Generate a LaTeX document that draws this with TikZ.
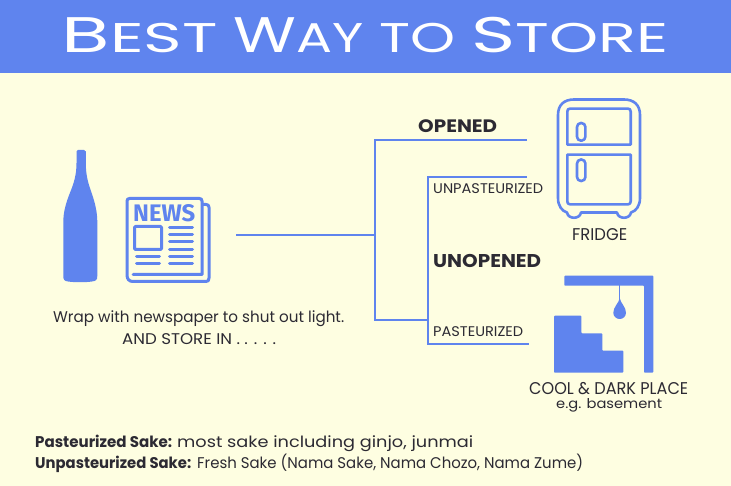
\documentclass[tikz,border=0pt]{standalone}
\usepackage{fontspec}
\usepackage{graphicx}
\setmainfont{Poppins}
\definecolor{sky}{HTML}{5F84EE}
\definecolor{cream}{HTML}{FEFEE1}
\definecolor{ink}{HTML}{2C2A33}
% set text to an exact width, keeping the font's own height
\newcommand{\fitw}[2]{\resizebox{#1pt}{\height}{#2}}
% initial capital and small capitals for the heading
\newcommand{\bigc}{\fontsize{50}{50}\selectfont}
\newcommand{\smallc}{\fontsize{41.5}{42}\selectfont}
\tikzset{
  label/.style={anchor=base west,inner sep=0pt,text=ink},
  headword/.style={anchor=base west,inner sep=0pt,text=white},
  branch/.style={draw=sky,line width=2pt},
  iconline/.style={draw=sky,line width=3pt,line cap=round,line join=round},
  fridgeline/.style={draw=sky,line width=2.6pt,line join=round},
  solidicon/.style={fill=sky,draw=none}
}
\begin{document}
\begin{tikzpicture}[x=1pt,y=-1pt]
\useasboundingbox (0,0) rectangle (731,486);
\fill[cream] (0,0) rectangle (731,486);
\fill[sky] (0,0) rectangle (731,73);

% heading
\node[headword] (tbest) at (61.5,53) {\fitw{156}{\bigc B\smallc EST}};
\node[headword] (tway) at (233,53) {\fitw{130}{\bigc W\smallc AY}};
\node[headword] (tto) at (379,53) {\fitw{76}{\smallc TO}};
\node[headword] (tstore) at (471,53) {\fitw{197}{\bigc S\smallc TORE}};

% bottle
\fill[solidicon] (76.5,151.5) .. controls (76.5,150.3) and (77,150) .. (78,150)
  -- (84,150) .. controls (85.3,150) and (85.8,150.5) .. (85.8,151.5)
  -- (85.8,163) .. controls (85.8,175) and (88,183) .. (92,194)
  .. controls (95,203) and (97.3,212) .. (97.3,222)
  -- (97.3,276) .. controls (97.3,280) and (96,281) .. (92,281.5)
  .. controls (85,282.5) and (75,282.5) .. (68,281.5)
  .. controls (64.5,281) and (63.3,280) .. (63.3,276)
  -- (63.3,222) .. controls (63.3,212) and (66,203) .. (69.5,194)
  .. controls (74,183) and (76.5,175) .. (76.5,163) -- cycle;

% newspaper
\draw[iconline] (202,204.5) -- (206,204.5) .. controls (208,204.5) and (209,205.5) .. (209,207.5)
  -- (209,278) .. controls (209,280.5) and (208,281.5) .. (206,281.5)
  -- (133,281.5) .. controls (129,281.5) and (127,279) .. (127,275)
  -- (127,201) .. controls (127,199.5) and (128,198.5) .. (129.5,198.5)
  -- (199.5,198.5) .. controls (201,198.5) and (202,199.5) .. (202,201)
  -- (202,274.5) -- (133,274.5);
\node[inner sep=0pt,text=sky,anchor=base west] (news) at (133,222)
  {\resizebox{62pt}{17pt}{\fontspec{Fira Sans}\bfseries NEWS}};
\draw[iconline,rounded corners=1pt] (134.5,226.5) rectangle (161.5,249.5);
\foreach \ypos in {227.3,234.7,242,249.3,256.7,263.3}
  \draw[iconline] (169.5,\ypos) -- (192.5,\ypos);
\foreach \ypos in {256.7,263.3}
  \draw[iconline] (136.5,\ypos) -- (159.5,\ypos);

% branching connectors
\coordinate (src) at (236,235);
\coordinate (trunk) at (375,235);
\coordinate (trunktop) at (375,140);
\coordinate (trunkbot) at (375,320);
\coordinate (opened) at (527,140);
\coordinate (subbot) at (428,320);
\coordinate (subtop) at (428,177);
\coordinate (sublow) at (428,344);
\coordinate (unpast) at (527,177);
\coordinate (past) at (529,344);
\draw[branch] (src) -- (trunk);
\draw[branch,line join=miter] (opened) -- (trunktop) -- (trunkbot) -- (subbot);
\draw[branch] (unpast) -- (subtop) -- (sublow) -- (past);

% refrigerator
\draw[fridgeline] (558,115) .. controls (558,105) and (564,99.5) .. (574,99.5)
  -- (624,99.5) .. controls (634,99.5) and (640,105) .. (640,115)
  -- (640,198) .. controls (640,206) and (636,211) .. (631,212.5)
  .. controls (630,219.5) and (618,219.5) .. (617,212.5)
  -- (581,212.5) .. controls (580,219.5) and (568,219.5) .. (567,212.5)
  .. controls (562,211) and (558,206) .. (558,198) -- cycle;
\draw[fridgeline] (567.3,144.7) -- (567.3,111.5) .. controls (567.3,109.5) and (568.3,108.6) .. (570.3,108.6)
  -- (627.7,108.6) .. controls (629.7,108.6) and (630.7,109.5) .. (630.7,111.5)
  -- (630.7,144.7) -- cycle;
\draw[fridgeline] (567.3,154.6) -- (630.7,154.6) -- (630.7,201.4)
  .. controls (630.7,203.4) and (629.7,204.4) .. (627.7,204.4)
  -- (570.3,204.4) .. controls (568.3,204.4) and (567.3,203.4) .. (567.3,201.4) -- cycle;
\draw[fridgeline,rounded corners=4pt] (577,123) rectangle (585.4,140.7);
\draw[fridgeline,rounded corners=4pt] (577,159.5) rectangle (585.4,181);

% cellar
\fill[solidicon,rounded corners=0.8pt] (564.3,275.7) -- (653.3,275.7) -- (653.3,372.7)
  -- (644,372.7) -- (644,285.7) -- (564.3,285.7) -- cycle;
\fill[solidicon,rounded corners=0.8pt] (554,315.7) -- (581.3,315.7) -- (581.3,333.3)
  -- (602.3,333.3) -- (602.3,350.7) -- (623.3,350.7) -- (623.3,372.7) -- (554,372.7) -- cycle;
\draw[draw=sky,line width=1.2pt] (619.7,285) -- (619.7,299);
\fill[solidicon] (619.7,298) .. controls (620.5,303) and (626,307) .. (626,312.7)
  .. controls (626,316.5) and (623,319) .. (619.7,319)
  .. controls (616.4,319) and (613.3,316.5) .. (613.3,312.7)
  .. controls (613.3,307) and (618.9,303) .. (619.7,298) -- cycle;

% labels
\node[label] (lopened) at (418,133) {\fitw{79}{\fontsize{18}{18}\selectfont\bfseries OPENED}};
\node[label] (lunopened) at (433,268) {\fitw{108}{\fontsize{18.5}{18}\selectfont\bfseries UNOPENED}};
\node[label] (lunpast) at (433,193.5) {\fitw{110}{\fontsize{14}{14}\selectfont UNPASTEURIZED}};
\node[label] (lpast) at (433,337) {\fitw{90}{\fontsize{14}{14}\selectfont PASTEURIZED}};
\node[label] (lfridge) at (572,241) {\fitw{55}{\fontsize{17}{17}\selectfont FRIDGE}};
\node[label] (lcool) at (529,394.5) {\fitw{159}{\fontsize{17}{17}\selectfont COOL \& DARK PLACE}};
\node[label] (lbase) at (556,408) {\fitw{106}{\fontsize{13.5}{14}\selectfont e.g. basement}};
\node[label] (lwrap) at (53,323) {\fitw{291}{\fontsize{15.5}{15}\selectfont Wrap with newspaper to shut out light.}};
\node[label] (lstore) at (122,344) {\fitw{154}{\fontsize{15.5}{15}\selectfont AND STORE IN . . . . .}};
\node[label] (lnotepb) at (35,447) {\fitw{137}{\fontsize{15.5}{15}\selectfont\bfseries Pasteurized Sake:}};
\node[label] (lnotepr) at (177,447) {\fitw{296}{\fontsize{15.5}{15}\selectfont most sake including ginjo, junmai}};
\node[label] (lnoteub) at (35,468) {\fitw{156}{\fontsize{15.5}{15}\selectfont\bfseries Unpasteurized Sake:}};
\node[label] (lnoteur) at (197,468) {\fitw{386}{\fontsize{15.5}{15}\selectfont Fresh Sake (Nama Sake, Nama Chozo, Nama Zume)}};
\end{tikzpicture}
\end{document}
